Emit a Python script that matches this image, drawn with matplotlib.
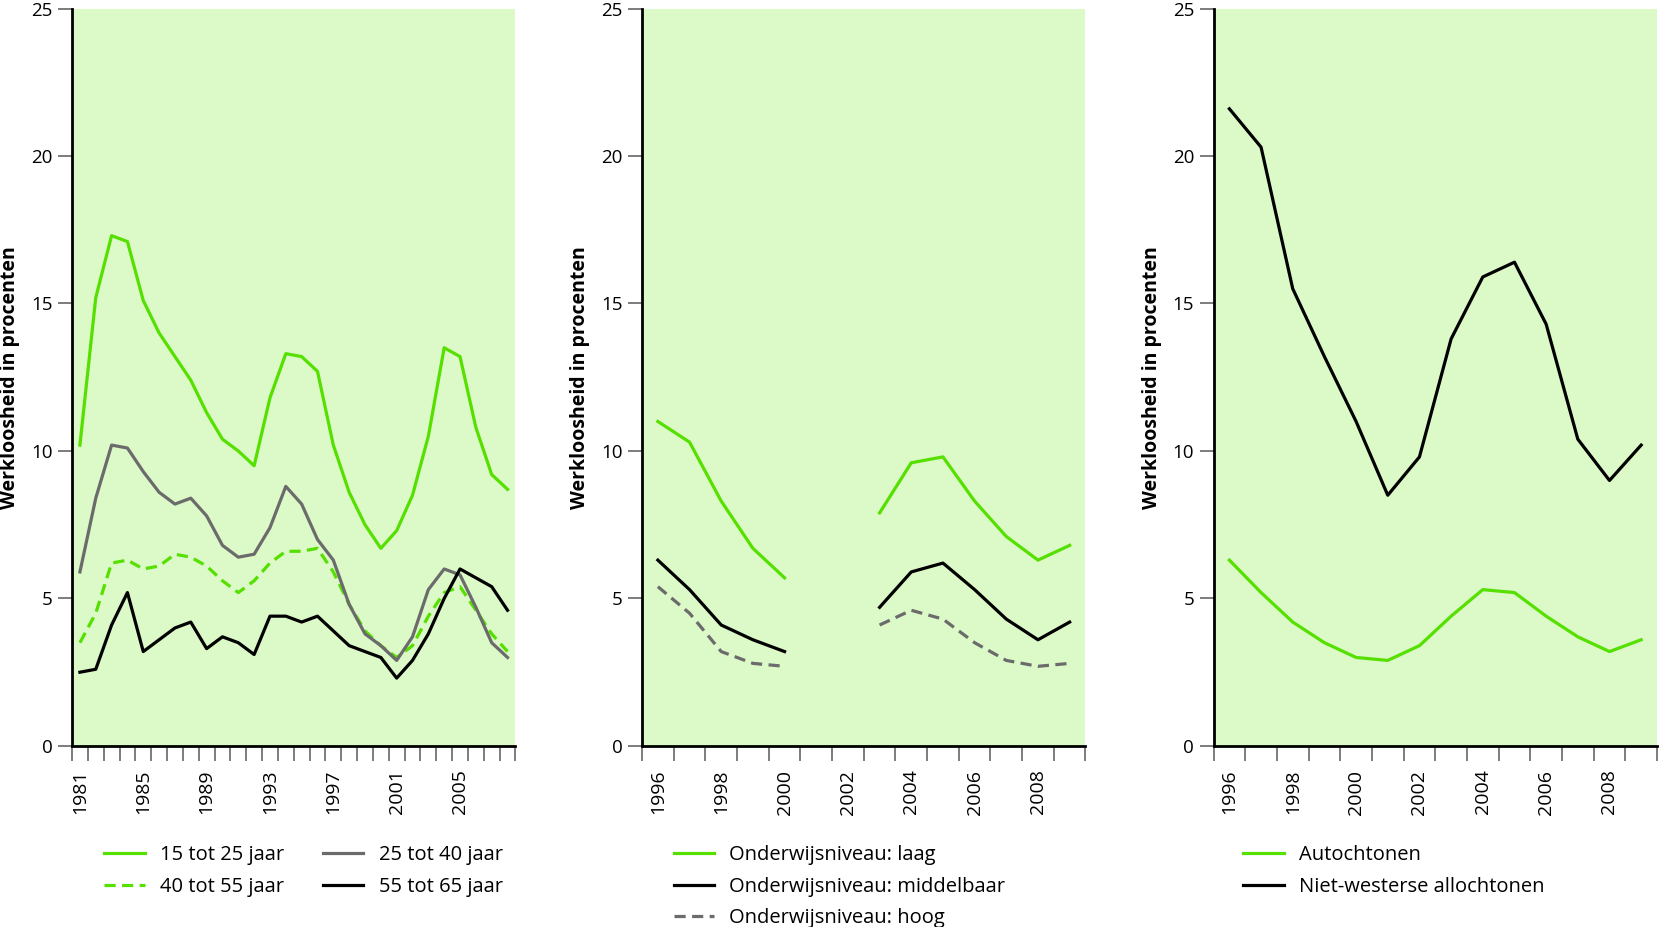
import matplotlib
matplotlib.use("Agg")
import matplotlib.pyplot as plt
import numpy as np

# --- data -----------------------------------------------------------------
years_age = list(range(1981, 2009))
age_15_25 = [10.2, 15.2, 17.3, 17.1, 15.1, 14.0, 13.2, 12.4, 11.3, 10.4, 10.0, 9.5,
             11.8, 13.3, 13.2, 12.7, 10.2, 8.6, 7.5, 6.7, 7.3, 8.5, 10.5, 13.5,
             13.2, 10.8, 9.2, 8.7]
age_25_40 = [5.9, 8.4, 10.2, 10.1, 9.3, 8.6, 8.2, 8.4, 7.8, 6.8, 6.4, 6.5,
             7.4, 8.8, 8.2, 7.0, 6.3, 4.8, 3.8, 3.4, 2.9, 3.7, 5.3, 6.0,
             5.8, 4.7, 3.5, 3.0]
age_40_55 = [3.5, 4.5, 6.2, 6.3, 6.0, 6.1, 6.5, 6.4, 6.1, 5.6, 5.2, 5.6,
             6.2, 6.6, 6.6, 6.7, 5.9, 4.8, 3.9, 3.4, 3.0, 3.4, 4.4, 5.2,
             5.4, 4.6, 3.8, 3.2]
age_55_65 = [2.5, 2.6, 4.1, 5.2, 3.2, 3.6, 4.0, 4.2, 3.3, 3.7, 3.5, 3.1,
             4.4, 4.4, 4.2, 4.4, 3.9, 3.4, 3.2, 3.0, 2.3, 2.9, 3.8, 5.0,
             6.0, 5.7, 5.4, 4.6]

years_edu = list(range(1996, 2010))
nan = np.nan
edu_laag = [11.0, 10.3, 8.3, 6.7, 5.7, nan, nan, 7.9, 9.6, 9.8, 8.3, 7.1, 6.3, 6.8]
edu_midden = [6.3, 5.3, 4.1, 3.6, 3.2, nan, nan, 4.7, 5.9, 6.2, 5.3, 4.3, 3.6, 4.2]
edu_hoog = [5.4, 4.5, 3.2, 2.8, 2.7, nan, nan, 4.1, 4.6, 4.3, 3.5, 2.9, 2.7, 2.8]

years_herk = list(range(1996, 2010))
autochtonen = [6.3, 5.2, 4.2, 3.5, 3.0, 2.9, 3.4, 4.4, 5.3, 5.2, 4.4, 3.7, 3.2, 3.6]
niet_westers = [21.6, 20.3, 15.5, 13.2, 11.0, 8.5, 9.8, 13.8, 15.9, 16.4, 14.3, 10.4, 9.0, 10.2]

GREEN = "#55e000"
GRAY = "#6b6b6b"
BLACK = "#000000"
BG = "#dcf9c8"
TICK = "#666666"

plt.rcParams["font.family"] = ["Open Sans", "DejaVu Sans"]

LEG = dict(frameon=False, fontsize=14.5, loc="upper left",
           handlelength=2.0, handletextpad=0.75, labelspacing=0.58)


def style_axes(ax, years, label_step):
    n = len(years)
    ax.set_facecolor(BG)
    ax.set_xlim(-0.5, n - 0.5)
    ax.set_ylim(0, 25)
    ax.set_yticks([0, 5, 10, 15, 20, 25])
    for s in ("top", "right"):
        ax.spines[s].set_visible(False)
    for s in ("left", "bottom"):
        ax.spines[s].set_linewidth(2)
        ax.spines[s].set_color(BLACK)
    ax.tick_params(axis="y", length=10, width=1.2, color=TICK, labelsize=13.5, pad=4)
    # tick marks on the category boundaries, labels in the middle
    ax.set_xticks(np.arange(n + 1) - 0.5)
    ax.set_xticklabels([])
    ax.tick_params(axis="x", which="major", length=11, width=1.2, color=TICK)
    idx = list(range(0, n, label_step))
    ax.set_xticks(idx, minor=True)
    ax.set_xticklabels([str(years[i]) for i in idx], minor=True, rotation=90)
    ax.tick_params(axis="x", which="minor", length=0, labelsize=14, pad=17)
    ax.set_ylabel("Werkloosheid in procenten", fontsize=14, fontweight="bold",
                  labelpad=8)


fig = plt.figure(figsize=(16.59, 9.27), dpi=100)
lw = 2.3
dash = (3.5, 2)
w, h, b = 0.2673, 0.7955, 0.1953

# panel 1: leeftijd
ax1 = fig.add_axes([0.0434, b, w, h])
x1 = np.arange(len(years_age))
l15, = ax1.plot(x1, age_15_25, color=GREEN, lw=lw)
l40, = ax1.plot(x1, age_40_55, color=GREEN, lw=lw, dashes=dash)
l25, = ax1.plot(x1, age_25_40, color=GRAY, lw=lw)
l55, = ax1.plot(x1, age_55_65, color=BLACK, lw=lw)
style_axes(ax1, years_age, 4)
ax1.legend([l15, l40, l25, l55],
           ["15 tot 25 jaar", "40 tot 55 jaar", "25 tot 40 jaar", "55 tot 65 jaar"],
           ncol=2, bbox_to_anchor=(0.052, 0.108), bbox_transform=fig.transFigure,
           columnspacing=1.95, **LEG)

# panel 2: onderwijsniveau
ax2 = fig.add_axes([0.387, b, w, h])
x2 = np.arange(len(years_edu))
a, = ax2.plot(x2, edu_laag, color=GREEN, lw=lw)
m, = ax2.plot(x2, edu_midden, color=BLACK, lw=lw)
hg, = ax2.plot(x2, edu_hoog, color=GRAY, lw=lw, dashes=dash)
style_axes(ax2, years_edu, 2)
ax2.legend([a, m, hg],
           ["Onderwijsniveau: laag", "Onderwijsniveau: middelbaar", "Onderwijsniveau: hoog"],
           bbox_to_anchor=(0.3953, 0.108), bbox_transform=fig.transFigure, **LEG)

# panel 3: herkomst
ax3 = fig.add_axes([0.7315, b, w, h])
x3 = np.arange(len(years_herk))
au, = ax3.plot(x3, autochtonen, color=GREEN, lw=lw)
nw, = ax3.plot(x3, niet_westers, color=BLACK, lw=lw)
style_axes(ax3, years_herk, 2)
ax3.legend([au, nw], ["Autochtonen", "Niet-westerse allochtonen"],
           bbox_to_anchor=(0.7385, 0.108), bbox_transform=fig.transFigure, **LEG)

fig.savefig("out.png", dpi=100)
